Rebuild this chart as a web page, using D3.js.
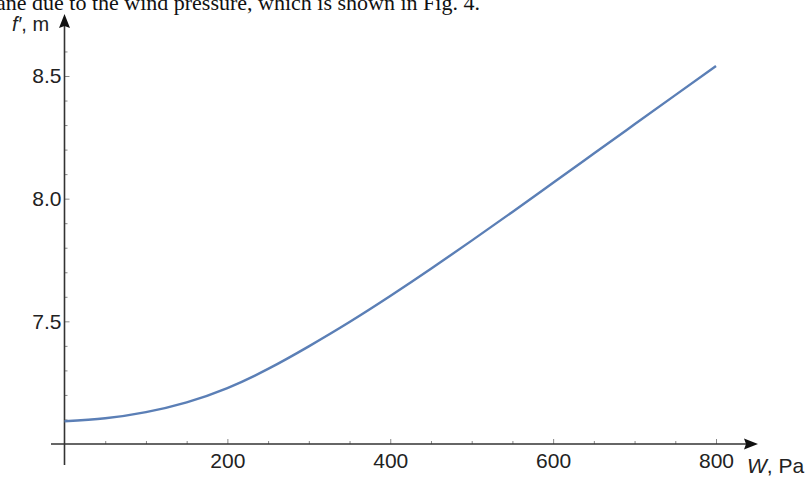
<!DOCTYPE html>
<html lang="en">
<head>
  <meta charset="UTF-8">
  <title>f' vs W</title>
  <style>
    body { margin: 0; background: #fff; }
    svg { display: block; }
    .tick text { font-family: "Liberation Sans", Arial, sans-serif; font-size: 21px; fill: #222; }
    .tick line { stroke: #888; stroke-width: 1px; }
    .axis-line { stroke: #333; stroke-width: 1.6px; }
    .curve { fill: none; stroke: #5b7fb6; stroke-width: 2.4px; }
  </style>
</head>
<body>
  <script src="https://cdn.jsdelivr.net/npm/d3@7"></script>
  <script>
    const width = 812, height = 478;

    // values
    const pressure = [0, 50, 100, 150, 200, 250, 300, 350, 400, 450, 500, 550, 600, 650, 700, 750, 800];
    const sag = [7.093, 7.105, 7.130, 7.170, 7.228, 7.306, 7.398, 7.497, 7.603, 7.714, 7.829, 7.946, 8.065, 8.184, 8.303, 8.422, 8.541];
    const xMajor = [200, 400, 600, 800];
    const xMinor = [50, 100, 150, 250, 300, 350, 450, 500, 550, 650, 700, 750];
    const yMajor = [7.5, 8.0, 8.5];
    const yMinor = [7.1, 7.2, 7.3, 7.4, 7.6, 7.7, 7.8, 7.9, 8.1, 8.2, 8.3, 8.4, 8.6];

    const data = pressure.map((w, i) => ({ w: w, f: sag[i] }));

    const x = d3.scaleLinear().domain([0, 800]).range([64.5, 716]);
    const y = d3.scaleLinear().domain([7, 8.5]).range([444, 76]);

    const svg = d3.select('body').append('svg').attr('width', width).attr('height', height);

    // cut-off caption line from the page above
    svg.append('text')
      .attr('x', -4).attr('y', 10)
      .style('font-family', '"Liberation Serif", "Times New Roman", serif')
      .style('font-size', '22px')
      .attr('fill', '#111')
      .text('ane due to the wind pressure, which is shown in Fig. 4.');

    // minor ticks
    svg.append('g')
      .attr('transform', `translate(0,${y(7)})`)
      .call(d3.axisBottom(x).tickValues(xMinor).tickSize(-3).tickFormat(''))
      .call(g => g.select('.domain').remove());
    svg.append('g')
      .attr('transform', `translate(${x(0)},0)`)
      .call(d3.axisLeft(y).tickValues(yMinor).tickSize(-3).tickFormat(''))
      .call(g => g.select('.domain').remove());

    // major ticks + labels
    svg.append('g')
      .attr('transform', `translate(0,${y(7)})`)
      .call(d3.axisBottom(x).tickValues(xMajor).tickSize(-5).tickPadding(9).tickFormat(d3.format('d')))
      .call(g => g.select('.domain').remove());
    svg.append('g')
      .attr('transform', `translate(${x(0)},0)`)
      .call(d3.axisLeft(y).tickValues(yMajor).tickSize(-5).tickPadding(3).tickFormat(d3.format('.1f')))
      .call(g => g.select('.domain').remove());

    // axis lines with arrows
    svg.append('line').attr('class', 'axis-line')
      .attr('x1', 51).attr('x2', 748).attr('y1', y(7)).attr('y2', y(7));
    svg.append('line').attr('class', 'axis-line')
      .attr('x1', x(0)).attr('x2', x(0)).attr('y1', 465).attr('y2', 24);
    svg.append('path')
      .attr('d', `M758,${y(7)} L744,${y(7) - 5.5} L746,${y(7)} L744,${y(7) + 5.5} Z`)
      .attr('fill', '#111');
    svg.append('path')
      .attr('d', `M${x(0)},14 L${x(0) - 5.5},28 L${x(0)},26 L${x(0) + 5.5},28 Z`)
      .attr('fill', '#111');

    // axis labels
    const yLab = svg.append('text')
      .attr('x', 12).attr('y', 31)
      .style('font-family', '"Liberation Sans", Arial, sans-serif')
      .style('font-size', '20px')
      .attr('fill', '#222');
    yLab.append('tspan').style('font-style', 'italic').text('f′');
    yLab.append('tspan').text(', m');

    const xLab = svg.append('text')
      .attr('x', 747).attr('y', 473)
      .style('font-family', '"Liberation Sans", Arial, sans-serif')
      .style('font-size', '21px')
      .attr('fill', '#222');
    xLab.append('tspan').style('font-style', 'italic').text('W');
    xLab.append('tspan').text(', Pa');

    // the curve
    const line = d3.line().curve(d3.curveNatural).x(d => x(d.w)).y(d => y(d.f));
    svg.append('path').datum(data).attr('class', 'curve').attr('d', line);
  </script>
</body>
</html>
